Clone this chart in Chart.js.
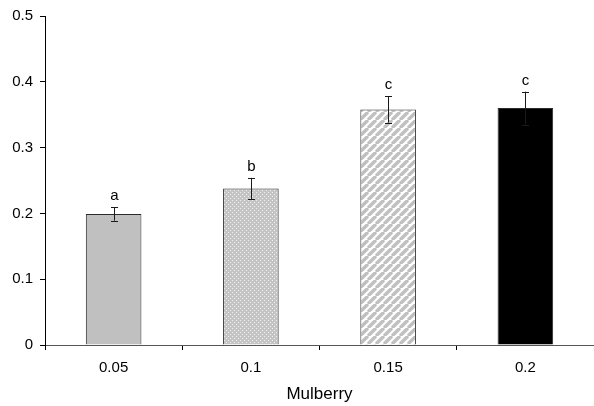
<!DOCTYPE html>
<html>
<head>
<meta charset="utf-8">
<script src="https://cdn.jsdelivr.net/npm/chart.js@4/dist/chart.umd.min.js"></script>
<style>
  html, body { margin: 0; padding: 0; background: #fff; }
  #wrap { width: 594px; height: 406px; overflow: hidden; }
</style>
</head>
<body>
<div id="wrap"><canvas id="c" width="594" height="406"></canvas></div>
<script>
// Mulberry level vs. measured response, mean ± SE with significance letters
const categories = ['0.05', '0.1', '0.15', '0.2'];
const means = [0.199, 0.238, 0.358, 0.360];
const errors = [0.010, 0.016, 0.020, 0.025];
const letters = ['a', 'b', 'c', 'c'];
const yTicks = [0, 0.1, 0.2, 0.3, 0.4, 0.5];

const FONT = '"Liberation Sans", Arial, sans-serif';

function makePattern(size, paint) {
  const cv = document.createElement('canvas');
  cv.width = size; cv.height = size;
  const g = cv.getContext('2d');
  paint(g, size);
  return document.getElementById('c').getContext('2d').createPattern(cv, 'repeat');
}

// light grey with white speckles
const dotted = makePattern(4, (g, s) => {
  g.fillStyle = '#c4c4c4'; g.fillRect(0, 0, s, s);
  g.fillStyle = '#f0f0f0';
  g.fillRect(0, 0, 1, 1);
  g.fillRect(2, 2, 1, 1);
});

// grey / white diagonal stripes
const striped = makePattern(8, (g, s) => {
  g.fillStyle = '#ffffff'; g.fillRect(0, 0, s, s);
  g.strokeStyle = '#c0c0c0'; g.lineWidth = 3.4;
  g.beginPath();
  for (let k = -1; k <= 1; k++) {
    g.moveTo(k * s, s); g.lineTo(k * s + s, 0);
  }
  g.stroke();
});

const fills = ['#c0c0c0', dotted, striped, '#000000'];

const errorBars = {
  id: 'errorBars',
  afterDatasetsDraw(chart) {
    const ctx = chart.ctx;
    const y = chart.scales.y;
    const meta = chart.getDatasetMeta(0);
    ctx.save();
    ctx.strokeStyle = '#1a1a1a';
    ctx.lineWidth = 1;
    meta.data.forEach((bar, i) => {
      const x = Math.round(bar.x) + 0.5;
      const top = y.getPixelForValue(means[i] + errors[i]);
      const bot = y.getPixelForValue(means[i] - errors[i]);
      ctx.beginPath();
      ctx.moveTo(x, top); ctx.lineTo(x, bot);
      ctx.moveTo(x - 3.5, Math.round(top) + 0.5); ctx.lineTo(x + 3.5, Math.round(top) + 0.5);
      ctx.moveTo(x - 3.5, Math.round(bot) + 0.5); ctx.lineTo(x + 3.5, Math.round(bot) + 0.5);
      ctx.stroke();
      ctx.fillStyle = '#000';
      ctx.font = '15px ' + FONT;
      ctx.textAlign = 'center';
      ctx.textBaseline = 'alphabetic';
      ctx.fillText(letters[i], x, top - 7);
    });
    ctx.restore();
  }
};

new Chart(document.getElementById('c'), {
  type: 'bar',
  data: {
    labels: categories,
    datasets: [{
      data: means,
      backgroundColor: fills,
      borderColor: '#2a2a2a',
      borderWidth: 1,
      barPercentage: 0.405,
      categoryPercentage: 1.0
    }]
  },
  options: {
    responsive: false,
    animation: false,
    events: [],
    layout: { padding: { top: 15, right: -4, left: 0, bottom: 0 } },
    plugins: { legend: { display: false }, tooltip: { enabled: false } },
    scales: {
      x: {
        offset: true,
        grid: { display: true, drawOnChartArea: false, drawTicks: true, tickLength: 5, color: '#000', offset: true },
        border: { display: true, color: '#555', width: 1 },
        ticks: { color: '#000', padding: 9, font: { family: FONT, size: 15 } },
        title: { display: true, text: 'Mulberry', color: '#000', padding: { top: 0, bottom: 1 },
                 font: { family: FONT, size: 17 } },
        afterFit(scale) { scale.height = 61; }
      },
      y: {
        min: 0, max: 0.5,
        afterBuildTicks(scale) { scale.ticks = yTicks.map(v => ({ value: v })); },
        grid: { display: true, drawOnChartArea: false, drawTicks: true, tickLength: 5, color: '#000' },
        border: { display: true, color: '#000', width: 1 },
        ticks: { color: '#000', padding: 7, font: { family: FONT, size: 15 },
                 callback: v => String(Math.round(v * 10) / 10) },
        afterFit(scale) { scale.width = 45; }
      }
    }
  },
  plugins: [errorBars]
});
</script>
</body>
</html>
